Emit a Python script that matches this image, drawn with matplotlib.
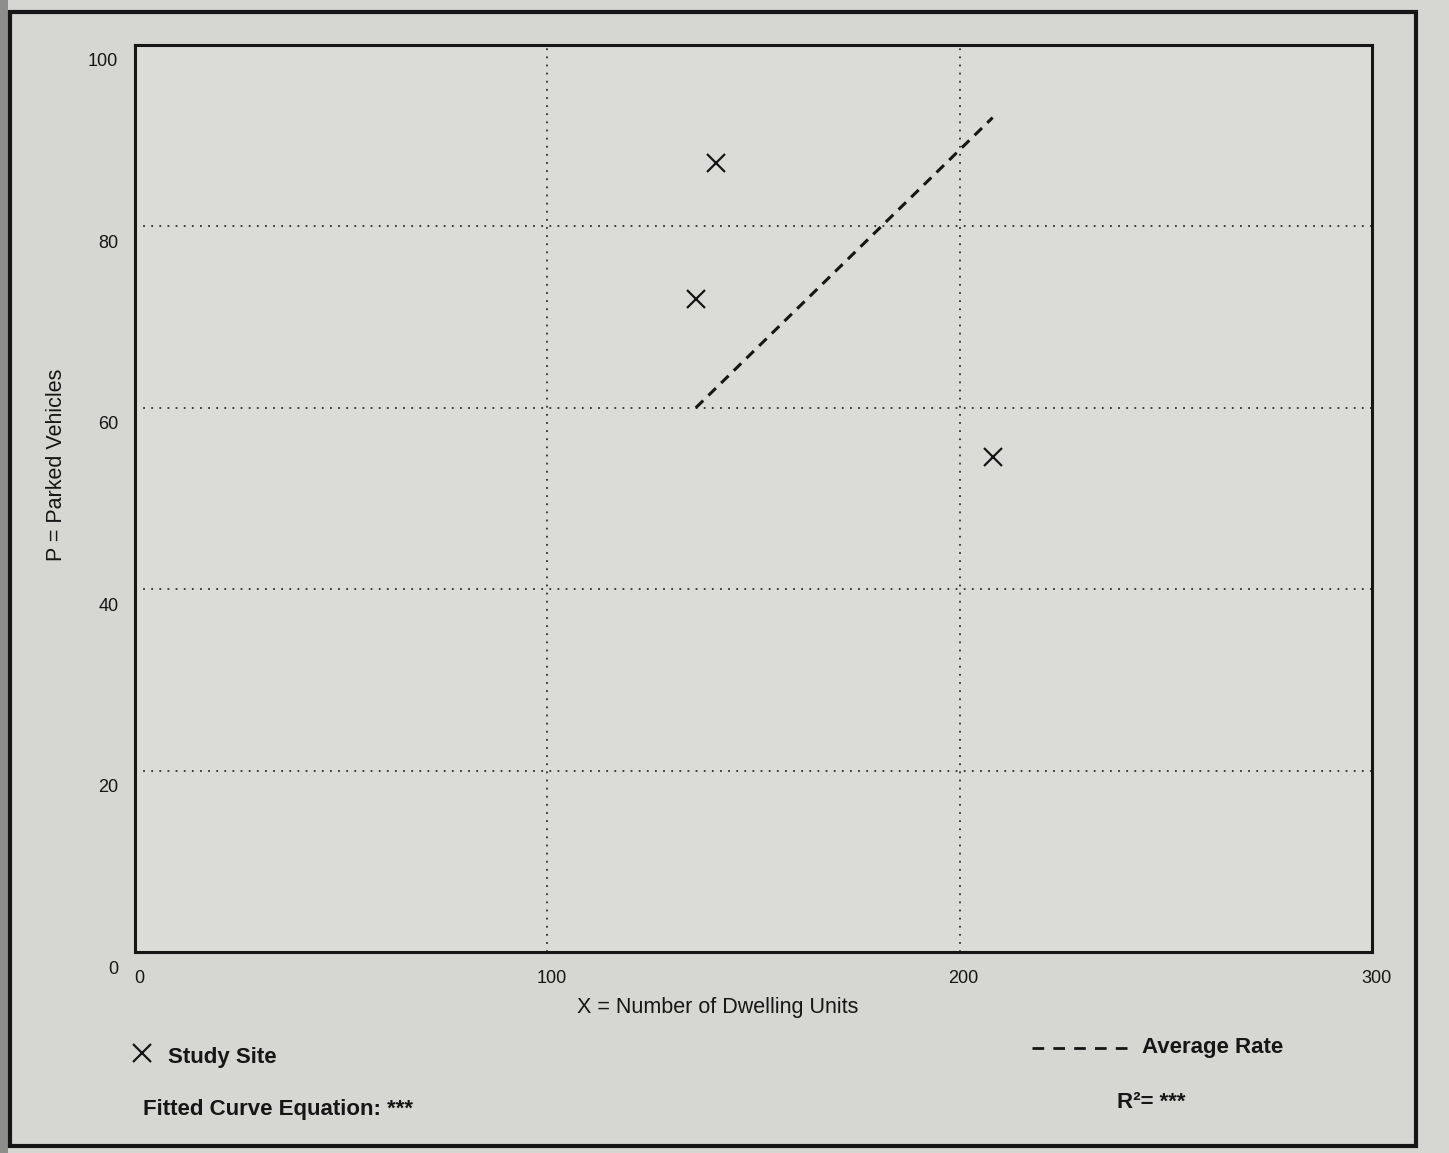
import matplotlib
matplotlib.use('Agg')
import matplotlib.pyplot as plt
import matplotlib.transforms as mtransforms
from matplotlib.lines import Line2D
from matplotlib.patches import Rectangle

# study sites
dwelling_units = [136, 141, 208]
parked_vehicles = [72, 87, 54.6]

# average rate line (runs over the range of the study sites)
rate_x = [136, 208]
rate_y = [60, 92]

x_ticks = [0, 100, 200, 300]
y_ticks = [0, 20, 40, 60, 80, 100]

W, H = 1449, 1153
INK = '#161616'

plt.rcParams['font.family'] = ['Liberation Sans', 'DejaVu Sans']


def fx(px):
    return px / W


def fy(py):
    return 1 - py / H


fig = plt.figure(figsize=(W / 100, H / 100), dpi=100, facecolor='#d6d6d3')

# darker strip at the left edge and the page frame
fig.add_artist(Rectangle((0, 0), fx(8), 1, transform=fig.transFigure,
                         fc='#8d8d8b', ec='none'))
fig.add_artist(Rectangle((fx(10), fy(1146)), fx(1406), (1146 - 12) / H,
                         transform=fig.transFigure, fill=False, lw=3, ec=INK))

ax = fig.add_axes([fx(135), fy(952), fx(1237), 907 / H])
ax.set_facecolor('#dbdbd8')

ax.plot(rate_x, rate_y, ls=(0, (3.4, 2.4)), color=INK, lw=2.2)
ax.plot(dwelling_units, parked_vehicles, ls='none', marker='x', ms=13,
        mew=1.6, color=INK)

ax.set_xlim(0, 300)
ax.set_ylim(0, 100)
ax.set_xticks(x_ticks)
ax.set_yticks(y_ticks)
ax.grid(True, ls=(0, (1, 3.5)), color='#303030', lw=1.3)
for s in ax.spines.values():
    s.set_linewidth(2.2)
    s.set_color(INK)

ax.tick_params(length=0, labelsize=13, colors=INK)
ax.tick_params(axis='x', pad=13)
ax.tick_params(axis='y', pad=12)
shift = mtransforms.ScaledTranslation(0, -0.15, fig.dpi_scale_trans)
for lab in ax.get_yticklabels():
    lab.set_transform(lab.get_transform() + shift)
xshift = mtransforms.ScaledTranslation(0.04, 0, fig.dpi_scale_trans)
for lab in ax.get_xticklabels():
    lab.set_transform(lab.get_transform() + xshift)

ax.set_xlabel('X = Number of Dwelling Units', fontsize=15.5, color=INK,
              va='center')
ax.xaxis.set_label_coords((718 - 135) / 1237, (952 - 1008) / 907)
ax.set_ylabel('P = Parked Vehicles', fontsize=15.5, color=INK, va='center')
ax.yaxis.set_label_coords((57 - 135) / 1237, (952 - 465) / 907)

# legend block under the chart
fig.add_artist(Line2D([fx(142)], [fy(1053)], marker='x', ms=13, mew=1.6,
                      color=INK, transform=fig.transFigure))
fig.text(fx(168), fy(1057), 'Study Site', fontsize=16, fontweight='bold',
         ha='left', va='center', color=INK)
fig.text(fx(143), fy(1110), 'Fitted Curve Equation: ***', fontsize=16,
         fontweight='bold', ha='left', va='center', color=INK)
fig.add_artist(Line2D([fx(1032), fx(1130)], [fy(1048), fy(1048)],
                      ls=(0, (4.2, 3.3)), lw=2, color=INK,
                      transform=fig.transFigure))
fig.text(fx(1142), fy(1048), 'Average Rate', fontsize=16, fontweight='bold',
         ha='left', va='center', color=INK)
fig.text(fx(1117), fy(1103), 'R²= ***', fontsize=16, fontweight='bold',
         ha='left', va='center', color=INK)

fig.savefig('out.png', dpi=100, facecolor=fig.get_facecolor())
